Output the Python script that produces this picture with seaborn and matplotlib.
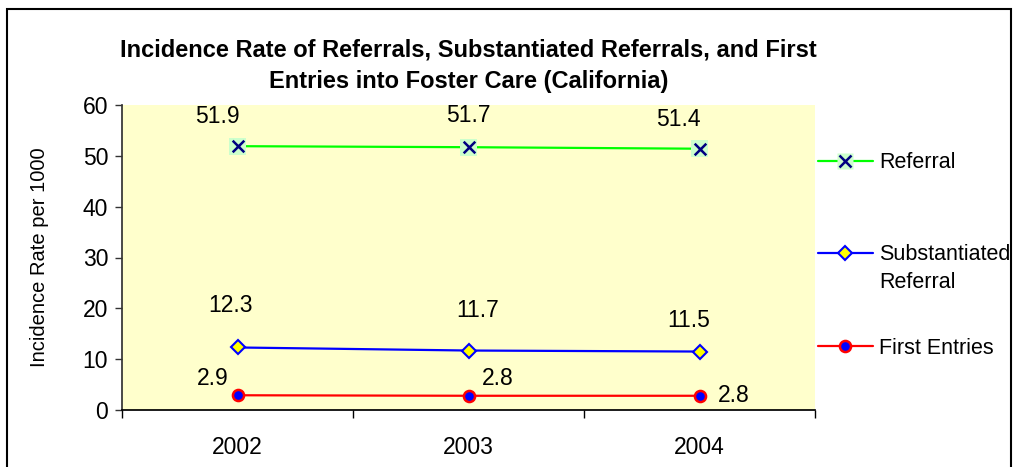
import matplotlib
matplotlib.use("Agg")
import matplotlib.pyplot as plt
from matplotlib.lines import Line2D
from matplotlib.legend_handler import HandlerTuple
from matplotlib.patches import Rectangle
import seaborn as sns
import pandas as pd

# Data
years = ["2002", "2003", "2004"]
referral = [51.9, 51.7, 51.4]
substantiated = [12.3, 11.7, 11.5]
first_entries = [2.9, 2.8, 2.8]

sns.set_theme(style="white")
plt.rcParams["font.family"] = ["Liberation Sans", "DejaVu Sans"]
plt.rcParams.update({"text.color": "black", "axes.labelcolor": "black",
                     "xtick.color": "black", "ytick.color": "black"})

df = pd.DataFrame({"year": years, "Referral": referral,
                   "Substantiated Referral": substantiated,
                   "First Entries": first_entries})

fig = plt.figure(figsize=(10.13, 4.67), dpi=100)
ax = fig.add_axes([122 / 1013, 57 / 467, 693 / 1013, 305 / 467])
ax.set_facecolor("#FFFFCC")

# Referral: green line, navy x on a pale green square
sns.lineplot(data=df, x="year", y="Referral", color="#00FF00", linewidth=1.6, ax=ax, zorder=2)
sns.scatterplot(data=df, x="year", y="Referral", marker="s", s=150, color="#CCFFCC",
                edgecolor="none", ax=ax, zorder=3)
sns.scatterplot(data=df, x="year", y="Referral", marker="x", s=70, color="#000080",
                linewidth=1.8, ax=ax, zorder=4)

# Substantiated referral: blue line, yellow diamonds
sns.lineplot(data=df, x="year", y="Substantiated Referral", color="#0000FF", linewidth=1.6,
             marker="D", markersize=7, markerfacecolor="#FFFF00", markeredgecolor="#0000FF",
             markeredgewidth=1.5, ax=ax, zorder=3)

# First entries: red line, blue dots with red rim
sns.lineplot(data=df, x="year", y="First Entries", color="#FF0000", linewidth=1.6,
             marker="o", markersize=8, markerfacecolor="#0000FF", markeredgecolor="#FF0000",
             markeredgewidth=1.8, ax=ax, zorder=3)

# data labels, nudged like in the original
offsets = {
    "Referral": [(-20, 30), (0, 32), (-21, 29)],
    "Substantiated Referral": [(-7, 42), (9, 40), (-11, 31)],
    "First Entries": [(-25, 17), (29, 17), (34, 0)],
}
for col, offs in offsets.items():
    for i, (dx, dy) in enumerate(offs):
        ax.annotate(f"{df[col][i]:.1f}", (i, df[col][i]), xytext=(dx, dy),
                    textcoords="offset pixels", ha="center", va="center", fontsize=16.5)

ax.set_xlim(-0.5, 2.5)
ax.set_ylim(0, 60)
ax.set_yticks(range(0, 61, 10))
ax.set_xticks([-0.5, 0.5, 1.5, 2.5])
ax.set_xticklabels([])
ax.set_xticks(range(len(years)), minor=True)
ax.set_xticklabels(years, minor=True)
ax.tick_params(axis="x", which="major", direction="out", length=6, width=1, color="black", bottom=True)
ax.tick_params(axis="x", which="minor", length=0, pad=19, labelsize=16.5)
ax.tick_params(axis="y", direction="out", length=5, width=1, color="#333333", left=True,
               labelsize=16.5, pad=5)
for s in ["top", "right"]:
    ax.spines[s].set_visible(False)
ax.spines["left"].set_color("#333333")
ax.spines["bottom"].set_color("black")
ax.set_xlabel("")
ax.set_ylabel("Incidence Rate per 1000", fontsize=14.5)
ax.yaxis.set_label_coords(-0.106, 0.5)
ax.set_title("Incidence Rate of Referrals, Substantiated Referrals, and First\n"
             "Entries into Foster Care (California)", fontsize=17, fontweight="bold",
             linespacing=1.48, pad=12)

# legend, one entry at a time to get Excel's spacing
h_ref = (Line2D([], [], color="#00FF00", lw=1.6, marker="s", markersize=11,
                markerfacecolor="#CCFFCC", markeredgecolor="none"),
         Line2D([], [], ls="none", marker="x", markersize=8, markeredgecolor="#000080", markeredgewidth=1.8))
h_sub = Line2D([], [], color="#0000FF", lw=1.6, marker="D", markersize=7,
               markerfacecolor="#FFFF00", markeredgecolor="#0000FF", markeredgewidth=1.5)
h_fe = Line2D([], [], color="#FF0000", lw=1.6, marker="o", markersize=8,
              markerfacecolor="#0000FF", markeredgecolor="#FF0000", markeredgewidth=1.8)
for h, lab, ypix in [(h_ref, "Referral", 163), (h_sub, "Substantiated", 255), (h_fe, "First Entries", 348)]:
    fig.legend([h], [lab], loc="center left", bbox_to_anchor=(818 / 1013, 1 - ypix / 467),
               frameon=False, fontsize=15.5, handlelength=2.55, handletextpad=0.28, borderpad=0,
               borderaxespad=0, handler_map={tuple: HandlerTuple(ndivide=1)})
fig.text(879 / 1013, 1 - 282 / 467, "Referral", fontsize=15.5, va="center", ha="left")

# chart border
fig.patches.append(Rectangle((7 / 1013, -0.05), 1004 / 1013, 1.05 - 9 / 467,
                             transform=fig.transFigure, fill=False, edgecolor="black", lw=1.5))

fig.savefig("out.png", dpi=100)
